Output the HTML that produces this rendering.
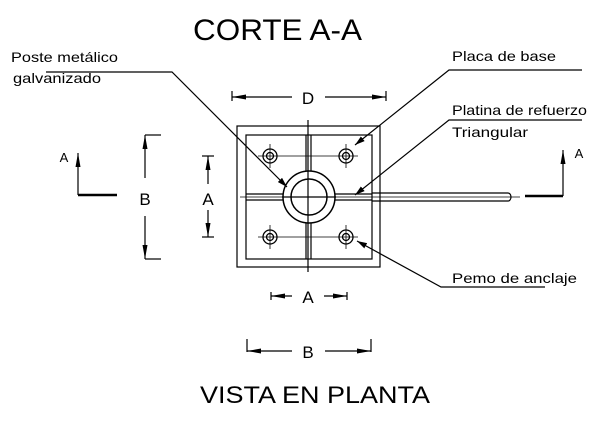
<!DOCTYPE html>
<html><head><style>body{margin:0;background:#fff}svg{display:block}</style></head><body>
<svg width="600" height="421" viewBox="0 0 600 421" xmlns="http://www.w3.org/2000/svg" font-family="Liberation Sans, Arial, sans-serif">
<defs><marker id="ar" markerWidth="10" markerHeight="6" refX="10" refY="3" orient="auto" markerUnits="userSpaceOnUse"><path d="M0,0 L10,3 L0,6 Z" fill="#000"/></marker>
<marker id="ad" markerWidth="14" markerHeight="5" refX="14" refY="2.5" orient="auto" markerUnits="userSpaceOnUse"><path d="M0,0 L14,2.5 L0,5 Z" fill="#000"/></marker></defs>
<g fill="#000">
<text x="193" y="40" font-size="30" textLength="169" lengthAdjust="spacingAndGlyphs">CORTE  A-A</text>
<text x="200" y="403" font-size="24" textLength="230" lengthAdjust="spacingAndGlyphs">VISTA EN PLANTA</text>
<text x="11" y="62" font-size="14" textLength="107" lengthAdjust="spacingAndGlyphs">Poste metálico</text>
<text x="13" y="83" font-size="14" textLength="88" lengthAdjust="spacingAndGlyphs">galvanizado</text>
<text x="452" y="61" font-size="14" textLength="104" lengthAdjust="spacingAndGlyphs">Placa de base</text>
<text x="452" y="115" font-size="14" textLength="135" lengthAdjust="spacingAndGlyphs">Platina de refuerzo</text>
<text x="452" y="137" font-size="14" textLength="76" lengthAdjust="spacingAndGlyphs">Triangular</text>
<text x="452" y="283" font-size="14" textLength="125" lengthAdjust="spacingAndGlyphs">Pemo de anclaje</text>
<text x="308" y="104" font-size="17" text-anchor="middle">D</text>
<text x="308" y="303" font-size="17" text-anchor="middle">A</text>
<text x="308" y="358" font-size="17" text-anchor="middle">B</text>
<text x="145" y="205" font-size="17" text-anchor="middle">B</text>
<text x="208" y="205" font-size="17" text-anchor="middle">A</text>
<text x="64" y="162" font-size="13" text-anchor="middle">A</text>
<text x="579" y="158" font-size="13" text-anchor="middle">A</text>
</g>
<g stroke="#000" fill="none" stroke-width="1.2">
<rect x="237" y="126" width="143" height="141"/>
<rect x="246" y="135" width="126" height="124"/>
<line x1="306" y1="135" x2="306" y2="259"/><line x1="311" y1="135" x2="311" y2="259"/>
<line x1="308" y1="120" x2="308" y2="272"/>
<line x1="246" y1="194" x2="372" y2="194"/><line x1="246" y1="200" x2="372" y2="200"/>
<line x1="240" y1="197" x2="520" y2="197" stroke-width="0.8"/>
<circle cx="309" cy="197" r="26" fill="#fff" stroke-width="1.5"/>
<circle cx="309" cy="197" r="18" stroke-width="1.5"/>
<line x1="282" y1="197" x2="336" y2="197"/><line x1="308" y1="170" x2="308" y2="224"/>
<line x1="372" y1="193" x2="508" y2="193"/><line x1="372" y1="201" x2="508" y2="201"/>
<path d="M508,193 A3,4 0 0 1 508,201"/>
<g stroke-width="1.3">
<circle cx="270" cy="156" r="7"/><circle cx="270" cy="156" r="3.5"/>
<circle cx="346" cy="156" r="7"/><circle cx="346" cy="156" r="3.5"/>
<circle cx="270" cy="237" r="7"/><circle cx="270" cy="237" r="3.5"/>
<circle cx="346" cy="237" r="7"/><circle cx="346" cy="237" r="3.5"/>
</g>
<g stroke-width="0.8">
<line x1="258" y1="156" x2="358" y2="156"/><line x1="258" y1="237" x2="358" y2="237"/>
<line x1="270" y1="144" x2="270" y2="168"/><line x1="346" y1="144" x2="346" y2="168"/>
<line x1="270" y1="225" x2="270" y2="249"/><line x1="346" y1="225" x2="346" y2="249"/>
</g>
<polyline points="46,72 172,72 287,187" marker-end="url(#ar)"/>
<polyline points="582,70 449,70 355,145" marker-end="url(#ar)"/>
<polyline points="582,120 449,120 355,195" marker-end="url(#ar)"/>
<polyline points="545,287 441,287 357,241" marker-end="url(#ar)"/>
<line x1="232" y1="91" x2="232" y2="101"/><line x1="386" y1="91" x2="386" y2="101"/>
<line x1="292" y1="97" x2="232" y2="97" marker-end="url(#ad)"/><line x1="325" y1="97" x2="386" y2="97" marker-end="url(#ad)"/>
<line x1="271" y1="292" x2="271" y2="300"/><line x1="347" y1="292" x2="347" y2="300"/>
<line x1="292" y1="296" x2="271" y2="296" marker-end="url(#ad)"/><line x1="324" y1="296" x2="347" y2="296" marker-end="url(#ad)"/>
<line x1="247" y1="339" x2="247" y2="352"/><line x1="371" y1="339" x2="371" y2="352"/>
<line x1="292" y1="351" x2="247" y2="351" marker-end="url(#ad)"/><line x1="325" y1="351" x2="371" y2="351" marker-end="url(#ad)"/>
<line x1="145" y1="135" x2="161" y2="135"/><line x1="145" y1="259" x2="161" y2="259"/>
<line x1="145" y1="178" x2="145" y2="135" marker-end="url(#ad)"/><line x1="145" y1="216" x2="145" y2="259" marker-end="url(#ad)"/>
<line x1="202" y1="156" x2="214" y2="156"/><line x1="202" y1="237" x2="214" y2="237"/>
<line x1="208" y1="184" x2="208" y2="156" marker-end="url(#ad)"/><line x1="208" y1="210" x2="208" y2="237" marker-end="url(#ad)"/>
<line x1="78" y1="195" x2="78" y2="153" marker-end="url(#ad)"/>
<line x1="78" y1="195" x2="117" y2="195" stroke-width="2.5"/>
<line x1="563" y1="196" x2="563" y2="150" marker-end="url(#ad)"/>
<line x1="525" y1="196" x2="563" y2="196" stroke-width="2.5"/>
</g>
</svg>
</body></html>
